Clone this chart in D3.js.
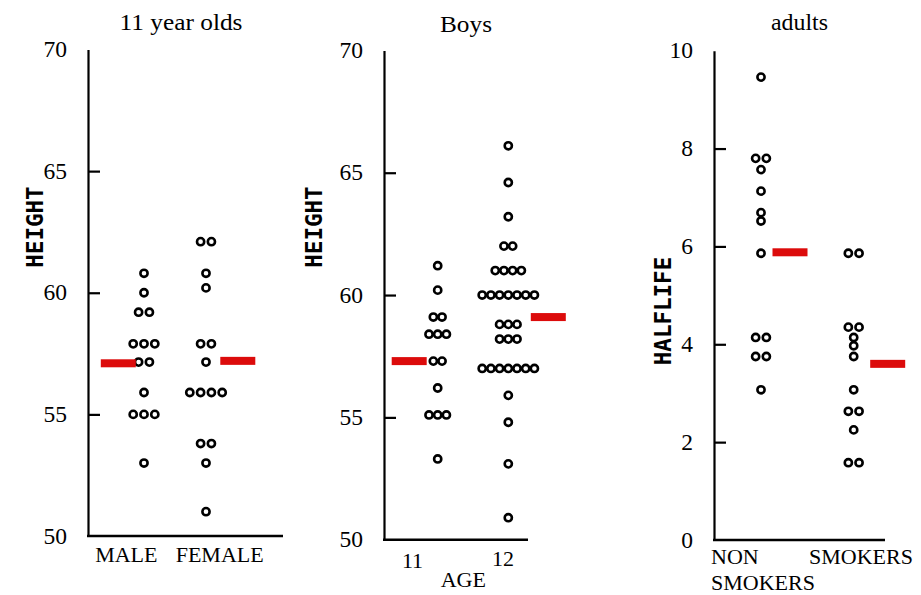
<!DOCTYPE html>
<html>
<head>
<meta charset="utf-8">
<script src="https://cdn.jsdelivr.net/npm/d3@7"></script>
<style>
  html, body { margin: 0; padding: 0; background: #fff; }
  svg { display: block; }
  .serif { font-family: "Liberation Serif", "Times New Roman", serif; fill: #000; }
  .mono { font-family: "DejaVu Sans Mono", "Liberation Mono", monospace; font-weight: bold; fill: #000; }
</style>
</head>
<body>
<svg id="chart" width="921" height="595"></svg>
<script>
// ---------------- DATA ----------------
const panelTitles = ["11 year olds", "Boys", "adults"];
const yAxisTitles = ["HEIGHT", "HEIGHT", "HALFLIFE"];
const xAxisTitles = ["", "AGE", ""];

const heightTicks = [50, 55, 60, 65, 70];
const halflifeTicks = [0, 2, 4, 6, 8, 10];

// panel 1 : 11 year olds by sex
const sexCategories = ["MALE", "FEMALE"];
const maleHeight = [60.8, 60.0, 59.2, 59.2, 57.9, 57.9, 57.9, 57.15, 57.15, 55.9, 55.0, 55.0, 55.0, 53.0];
const femaleHeight = [62.1, 62.1, 60.8, 60.2, 57.9, 57.9, 57.15, 55.9, 55.9, 55.9, 55.9, 53.8, 53.8, 53.0, 51.0];
const sexMeans = [57.1, 57.2];

// panel 2 : boys by age
const ageCategories = ["11", "12"];
const age11Height = [61.2, 60.2, 59.1, 59.1, 58.4, 58.4, 58.4, 57.3, 57.3, 56.2, 55.1, 55.1, 55.1, 53.3];
const age12Height = [66.1, 64.6, 63.2, 62.0, 62.0, 61.0, 61.0, 61.0, 61.0,
  60.0, 60.0, 60.0, 60.0, 60.0, 60.0, 60.0, 58.8, 58.8, 58.8, 58.2, 58.2, 58.2,
  57.0, 57.0, 57.0, 57.0, 57.0, 57.0, 57.0, 55.9, 54.8, 53.1, 50.9];
const ageMeans = [57.3, 59.1];

// panel 3 : adults by smoking
const smokeCategories = [["NON", "SMOKERS"], ["SMOKERS"]];
const nonSmokerHalflife = [9.46, 7.8, 7.8, 7.57, 7.13, 6.69, 6.52, 5.86, 4.14, 4.14, 3.75, 3.75, 3.07];
const smokerHalflife = [5.86, 5.86, 4.35, 4.35, 4.14, 3.97, 3.75, 3.07, 2.63, 2.63, 2.25, 1.58, 1.58];
const smokeMeans = [5.88, 3.6];

// ---------------- LAYOUT ----------------
const panels = [
  {
    title: panelTitles[0], titleX: 181, titleY: 30, titleLen: 123,
    yTitle: yAxisTitles[0], yTitleX: 43, yTitleY: 227,
    ticks: heightTicks, yDomain: [50, 70], yRange: [536, 49.5],
    axisX: 88, axisEnd: 283,
    series: [maleHeight, femaleHeight], means: sexMeans,
    centers: [144, 206], spacing: 10.8, meanOffsets: [-25.7, 31.8],
    catLabels: sexCategories.map(c => [c]), catX: [126.3, 219.7], catY: [562, 562], catAnchor: "middle",
    xTitle: xAxisTitles[0]
  },
  {
    title: panelTitles[1], titleX: 466, titleY: 32, titleLen: 52,
    yTitle: yAxisTitles[1], yTitleX: 322, yTitleY: 227,
    ticks: heightTicks, yDomain: [50, 70], yRange: [539.7, 50.4],
    axisX: 384, axisEnd: 528,
    series: [age11Height, age12Height], means: ageMeans,
    centers: [437.7, 508.3], spacing: 8.7, meanOffsets: [-28.5, 40],
    catLabels: ageCategories.map(c => [c]), catX: [412.5, 503], catY: [568, 566], catAnchor: "middle",
    xTitle: xAxisTitles[1], xTitleX: 463.3, xTitleY: 587
  },
  {
    title: panelTitles[2], titleX: 799.5, titleY: 30, titleLen: 57,
    yTitle: yAxisTitles[2], yTitleX: 671, yTitleY: 311,
    ticks: halflifeTicks, yDomain: [0, 10], yRange: [540, 50.7],
    axisX: 714, axisEnd: 885,
    series: [nonSmokerHalflife, smokerHalflife], means: smokeMeans,
    centers: [761, 853.7], spacing: 10.7, meanOffsets: [29, 34],
    catLabels: smokeCategories, catX: [711, 809], catY: [564, 564], catAnchor: "start",
    xTitle: xAxisTitles[2]
  }
];

const svg = d3.select("#chart");
const RED = "#dc0b0b";

panels.forEach(p => {
  const g = svg.append("g");
  const y = d3.scaleLinear().domain(p.yDomain).range(p.yRange);
  const x = d3.scaleLinear().domain([0, 1]).range(p.centers);

  // title
  g.append("text").attr("class", "serif")
    .attr("x", p.titleX).attr("y", p.titleY)
    .attr("text-anchor", "middle").attr("font-size", 23)
    .attr("textLength", p.titleLen).attr("lengthAdjust", "spacingAndGlyphs")
    .text(p.title);

  // y axis
  const axis = d3.axisLeft(y).tickValues(p.ticks)
    .tickSizeInner(-12).tickSizeOuter(0).tickPadding(21)
    .tickFormat(d3.format("d"));
  const ag = g.append("g").attr("transform", `translate(${p.axisX},0)`).call(axis);
  ag.select(".domain").attr("stroke", "#000").attr("stroke-width", 2.2);
  ag.selectAll(".tick line").attr("stroke", "#000").attr("stroke-width", 2.2)
    .filter(d => d === p.yDomain[0] || d === p.yDomain[1]).remove();
  ag.selectAll(".tick text")
    .attr("class", "serif").attr("font-size", 23.5)
    .attr("font-family", "'Liberation Serif', serif")
    .attr("dy", "0.3em");
  ag.attr("font-family", null).attr("font-size", null);

  // x axis line
  g.append("line")
    .attr("x1", p.axisX - 1).attr("x2", p.axisEnd)
    .attr("y1", y(p.yDomain[0])).attr("y2", y(p.yDomain[0]))
    .attr("stroke", "#000").attr("stroke-width", 2.4);

  // y axis title
  g.append("text").attr("class", "mono")
    .attr("transform", `translate(${p.yTitleX},${p.yTitleY}) rotate(-90)`)
    .attr("text-anchor", "middle").attr("font-size", 22.5)
    .text(p.yTitle);

  // category labels
  p.catLabels.forEach((lines, i) => {
    const t = g.append("text").attr("class", "serif")
      .attr("font-size", 22).attr("text-anchor", p.catAnchor)
      .attr("x", p.catX[i]).attr("y", p.catY[i]);
    lines.forEach((ln, k) => {
      t.append("tspan").attr("x", p.catX[i]).attr("dy", k === 0 ? 0 : 26).text(ln);
    });
  });
  if (p.xTitle) {
    g.append("text").attr("class", "serif").attr("font-size", 22)
      .attr("text-anchor", "middle")
      .attr("x", p.xTitleX).attr("y", p.xTitleY).text(p.xTitle);
  }

  // dots (stacked horizontally for tied values)
  p.series.forEach((vals, i) => {
    const groups = d3.groups(vals, v => v);
    const pts = [];
    groups.forEach(([v, arr]) => {
      arr.forEach((_, j) => pts.push({ v, off: j - (arr.length - 1) / 2 }));
    });
    g.append("g").selectAll("circle").data(pts).join("circle")
      .attr("cx", d => x(i) + d.off * p.spacing)
      .attr("cy", d => y(d.v))
      .attr("r", 3.6)
      .attr("fill", "#fff").attr("stroke", "#000").attr("stroke-width", 2.6);
  });

  // mean bars
  g.append("g").selectAll("rect").data(p.means).join("rect")
    .attr("x", (d, i) => x(i) + p.meanOffsets[i] - 17.5)
    .attr("y", d => y(d) - 4)
    .attr("width", 35).attr("height", 8)
    .attr("fill", RED);
});
</script>
</body>
</html>
